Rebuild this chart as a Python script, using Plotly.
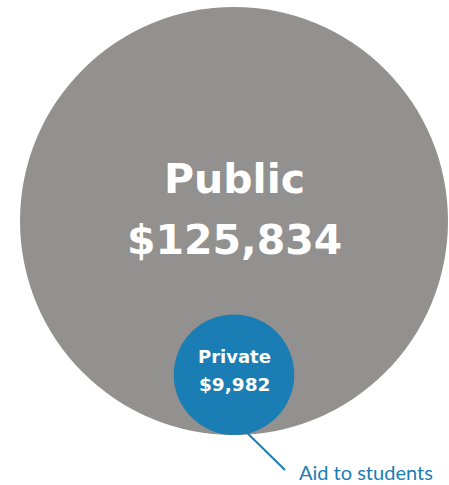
import math
import plotly.graph_objects as go

# ---- data ----
categories = ["Public", "Private"]
values = [125834, 9982]
value_labels = ["$125,834", "$9,982"]
callout_label = "Aid to students"

# ---- styling / layout ----
W, H = 449, 485
colors = ["#92918f", "#1a7db3"]
scale = 214 / math.sqrt(values[0])          # px per sqrt(value) -> area-proportional circles
radii = [scale * math.sqrt(v) for v in values]
cx = 234
big_cy = 221
centers = [(cx, big_cy), (cx, big_cy + radii[0] - radii[1])]  # small circle tangent to bottom

fig = go.Figure()
fig.add_trace(go.Scatter(x=[0, W], y=[0, H], mode="markers",
                         marker=dict(opacity=0), hoverinfo="skip", showlegend=False))

for (x0, y0), r, c in zip(centers, radii, colors):
    fig.add_shape(type="circle", xref="x", yref="y",
                  x0=x0 - r, x1=x0 + r, y0=y0 - r, y1=y0 + r,
                  fillcolor=c, line=dict(width=0), layer="below")

bold_font = "'DejaVu Sans', sans-serif"
light_font = "Lato, 'Open Sans', sans-serif"
bx, by = centers[0]
fig.add_annotation(x=bx, y=by - 42, text="<b>%s</b>" % categories[0], showarrow=False,
                   font=dict(family=bold_font, size=41, color="white"))
fig.add_annotation(x=bx, y=by + 18.5, text="<b>%s</b>" % value_labels[0], showarrow=False,
                   font=dict(family=bold_font, size=41, color="white"))
sx, sy = centers[1]
fig.add_annotation(x=sx, y=sy - 18, text="<b>%s</b>" % categories[1], showarrow=False,
                   font=dict(family=bold_font, size=18, color="white"))
fig.add_annotation(x=sx, y=sy + 10, text="<b>%s</b>" % value_labels[1], showarrow=False,
                   font=dict(family=bold_font, size=18.5, color="white"))

# callout line and label
r1 = radii[1]
fig.add_shape(type="line", xref="x", yref="y",
              x0=sx, y0=sy + 0.75 * r1, x1=sx + 51, y1=sy + 0.75 * r1 + 50,
              line=dict(color=colors[1], width=2))
fig.add_annotation(x=297, y=471.5, text=callout_label, showarrow=False,
                   xanchor="left", yanchor="middle",
                   font=dict(family=light_font, size=20, color=colors[1]))

fig.update_layout(width=W, height=H, margin=dict(l=0, r=0, t=0, b=0),
                  paper_bgcolor="white", plot_bgcolor="white",
                  xaxis=dict(range=[0, W], visible=False, fixedrange=True),
                  yaxis=dict(range=[H, 0], visible=False, fixedrange=True),
                  showlegend=False)
fig.write_html("out.html", config={"displayModeBar": False},
               post_script="document.body.style.margin='0';document.body.style.overflow='hidden';")
